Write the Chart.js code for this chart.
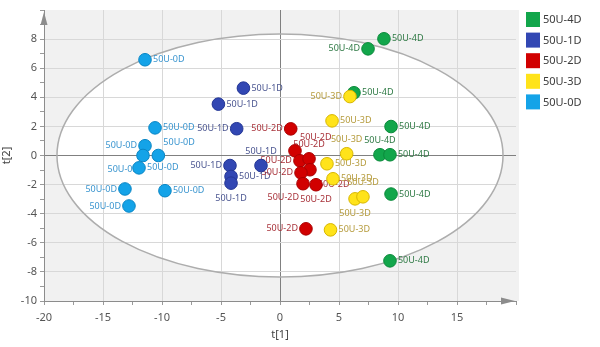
<!DOCTYPE html>
<html>
<head>
<meta charset="utf-8">
<script src="https://cdn.jsdelivr.net/npm/chart.js@4.4.1/dist/chart.umd.min.js"></script>
<style>
  html, body { margin: 0; padding: 0; background: #ffffff; }
  #wrap { width: 600px; height: 347px; position: relative; }
</style>
</head>
<body>
<div id="wrap"><canvas id="scores"></canvas></div>
<script>
// PCA score plot, t[1] vs t[2], one series per treatment group
const seriesNames = ['50U-4D', '50U-1D', '50U-2D', '50U-3D', '50U-0D'];

const t1_4D = [8.81, 7.46, 6.27, 9.41, 8.47, 9.32, 9.41, 9.32];
const t2_4D = [8.02, 7.33, 4.31, 1.99, 0.05, 0.05, -2.65, -7.24];

const t1_1D = [-3.10, -5.22, -3.67, -4.24, -1.61, -4.15, -4.15];
const t2_1D = [4.63, 3.53, 1.84, -0.69, -0.69, -1.44, -1.90];

const t1_2D = [0.91, 1.27, 1.69, 2.46, 2.54, 1.78, 1.95, 3.05, 2.20];
const t2_2D = [1.83, 0.32, -0.36, -0.23, -0.98, -1.19, -1.94, -2.01, -5.04];

const t1_3D = [5.93, 4.41, 5.65, 3.98, 4.49, 6.36, 7.03, 4.28];
const t2_3D = [4.05, 2.38, 0.12, -0.57, -1.60, -2.98, -2.84, -5.11];

const t1_0D = [-11.44, -10.59, -11.44, -11.61, -10.31, -11.95, -13.14, -12.80, -9.75];
const t2_0D = [6.58, 1.90, 0.67, 0.00, 0.00, -0.85, -2.30, -3.47, -2.42];

// where each point's name sits relative to its marker
const side_4D = ['r', 'l', 'r', 'r', 'u', 'r', 'r', 'r'];
const side_1D = ['r', 'r', 'l', 'l', 'u', 'r', 'd'];
const side_2D = ['l', 'ur', 'l', 'u', 'dr', 'l', 'dl', 'd', 'l'];
const side_3D = ['l', 'r', 'u', 'r', 'r', 'd', 'u', 'r'];
const side_0D = ['r', 'r', 'l', 'dl', 'ur', 'r', 'l', 'l', 'r'];

// Hotelling's T2 (95%) ellipse semi-axes
const ELLIPSE_T1 = 18.9;
const ELLIPSE_T2 = 8.35;

const xTickStep = 2.5;
const yTickStep = 1;

const FONT = "'Segoe UI', 'Noto Sans', 'Liberation Sans', sans-serif";

const style = {
  '50U-4D': { fill: '#12a64b', edge: '#0b8a3b', text: '#2f7a45' },
  '50U-1D': { fill: '#3247b3', edge: '#243796', text: '#4a5590' },
  '50U-2D': { fill: '#d10000', edge: '#aa0000', text: '#a8323a' },
  '50U-3D': { fill: '#ffe31a', edge: '#d8b700', text: '#b59b3c' },
  '50U-0D': { fill: '#14a3e8', edge: '#0a86c5', text: '#3a95cf' }
};

const groups = [
  { name: '50U-4D', t1: t1_4D, t2: t2_4D, side: side_4D },
  { name: '50U-1D', t1: t1_1D, t2: t2_1D, side: side_1D },
  { name: '50U-2D', t1: t1_2D, t2: t2_2D, side: side_2D },
  { name: '50U-3D', t1: t1_3D, t2: t2_3D, side: side_3D },
  { name: '50U-0D', t1: t1_0D, t2: t2_0D, side: side_0D }
];

const datasets = groups.map(g => ({
  label: g.name,
  data: g.t1.map((v, i) => ({ x: v, y: g.t2[i] })),
  backgroundColor: style[g.name].fill,
  borderColor: style[g.name].edge,
  borderWidth: 1,
  pointRadius: 6.3,
  pointHoverRadius: 6.3,
  order: g.name === '50U-3D' ? -1 : 0,
  sides: g.side
}));

// grey plot field with the white T2 ellipse, ellipse outline, axis arrows, point names, legend
const decorations = {
  id: 'decorations',
  beforeDraw(chart) {
    const { ctx, chartArea: a, scales: { x, y } } = chart;
    ctx.save();
    ctx.fillStyle = '#f1f1f1';
    ctx.fillRect(a.left, a.top, a.right - a.left + 3, a.bottom - a.top);
    const cx = x.getPixelForValue(0), cy = y.getPixelForValue(0);
    const rx = x.getPixelForValue(ELLIPSE_T1) - cx;
    const ry = cy - y.getPixelForValue(ELLIPSE_T2);
    ctx.beginPath();
    ctx.ellipse(cx, cy, rx, ry, 0, 0, Math.PI * 2);
    ctx.fillStyle = '#ffffff';
    ctx.fill();
    ctx.restore();
  },
  beforeDatasetsDraw(chart) {
    const { ctx, chartArea: a, scales: { x, y } } = chart;
    ctx.save();
    const cx = x.getPixelForValue(0), cy = y.getPixelForValue(0);
    const rx = x.getPixelForValue(ELLIPSE_T1) - cx;
    const ry = cy - y.getPixelForValue(ELLIPSE_T2);
    ctx.beginPath();
    ctx.ellipse(cx, cy, rx, ry, 0, 0, Math.PI * 2);
    ctx.strokeStyle = '#adadad';
    ctx.lineWidth = 1.5;
    ctx.stroke();

    // axis arrow heads
    ctx.fillStyle = '#8c8c8c';
    ctx.beginPath();
    ctx.moveTo(a.left, a.top + 2);
    ctx.lineTo(a.left - 3.5, a.top + 15);
    ctx.lineTo(a.left + 3.5, a.top + 15);
    ctx.closePath();
    ctx.fill();
    ctx.beginPath();
    ctx.moveTo(a.right - 1, a.bottom);
    ctx.lineTo(a.right - 15, a.bottom - 3.5);
    ctx.lineTo(a.right - 15, a.bottom + 3.5);
    ctx.closePath();
    ctx.fill();

    // point names
    ctx.font = '9px ' + FONT;
    ctx.textBaseline = 'middle';
    chart.data.datasets.forEach((ds, di) => {
      const meta = chart.getDatasetMeta(di);
      ctx.fillStyle = style[ds.label].text;
      meta.data.forEach((pt, i) => {
        const s = ds.sides[i];
        let tx = pt.x, ty = pt.y, align = 'left';
        if (s === 'r') { tx += 8; }
        else if (s === 'l') { tx -= 8; align = 'right'; }
        else if (s === 'u') { ty -= 14; align = 'center'; }
        else if (s === 'd') { ty += 15; align = 'center'; }
        else if (s === 'ur') { tx += 5; ty -= 13; }
        else if (s === 'dr') { tx += 8; ty += 15; }
        else if (s === 'dl') { tx -= 4; ty += 14; align = 'right'; }
        ctx.textAlign = align;
        ctx.fillText(ds.label, tx, ty);
      });
    });
    ctx.restore();
  },
  afterDraw(chart) {
    const { ctx } = chart;
    ctx.save();
    ctx.font = '11px ' + FONT;
    ctx.textBaseline = 'middle';
    ctx.textAlign = 'left';
    chart.data.datasets.forEach((ds, i) => {
      const top = 12 + i * 20.6;
      ctx.fillStyle = style[ds.label].fill;
      ctx.fillRect(526, top, 14, 15);
      ctx.fillStyle = '#3c3c3c';
      ctx.fillText(ds.label, 543, top + 8);
    });
    ctx.restore();
  }
};

const gridColor = (v, major, zero) => {
  if (v === 0) return zero;
  return major ? '#d8d8d8' : 'rgba(0,0,0,0)';
};

new Chart(document.getElementById('scores'), {
  type: 'scatter',
  data: { datasets },
  options: {
    responsive: true,
    maintainAspectRatio: false,
    animation: false,
    devicePixelRatio: 1,
    layout: { padding: { left: 0, right: 84, top: 10, bottom: 0 } },
    plugins: {
      legend: { display: false },
      tooltip: { enabled: false }
    },
    scales: {
      x: {
        type: 'linear',
        min: -20,
        max: 20,
        afterFit(scale) { scale.height = 46; },
        ticks: {
          stepSize: xTickStep,
          autoSkip: false,
          maxRotation: 0,
          padding: 6,
          color: '#555555',
          font: { size: 11, family: FONT },
          callback: v => (v % 5 === 0 && v !== 20) ? String(v) : ''
        },
        grid: {
          color: c => (c.tick && c.tick.value !== 20 && c.tick.value !== -20)
            ? gridColor(c.tick.value, c.tick.value % 5 === 0, '#808080') : 'rgba(0,0,0,0)',
          tickColor: '#9a9a9a',
          tickLength: 4,
          lineWidth: 1
        },
        border: { color: '#8c8c8c', width: 1 },
        title: {
          display: true,
          text: 't[1]',
          color: '#444444',
          font: { size: 11, family: FONT },
          padding: { top: 0, bottom: 6 }
        }
      },
      y: {
        type: 'linear',
        min: -10,
        max: 10,
        afterFit(scale) { scale.width = 44; },
        ticks: {
          stepSize: yTickStep,
          autoSkip: false,
          padding: 3,
          color: '#555555',
          font: { size: 11, family: FONT },
          callback: v => (v % 2 === 0 && v !== 10) ? String(v) : ''
        },
        grid: {
          color: c => (c.tick && c.tick.value !== 10 && c.tick.value !== -10)
            ? gridColor(c.tick.value, c.tick.value % 2 === 0, '#808080') : 'rgba(0,0,0,0)',
          tickColor: '#9a9a9a',
          tickLength: 4,
          lineWidth: 1
        },
        border: { color: '#8c8c8c', width: 1 },
        title: {
          display: true,
          text: 't[2]',
          color: '#444444',
          font: { size: 11, family: FONT },
          padding: { top: 0, bottom: 2 }
        }
      }
    }
  },
  plugins: [decorations]
});
</script>
</body>
</html>
